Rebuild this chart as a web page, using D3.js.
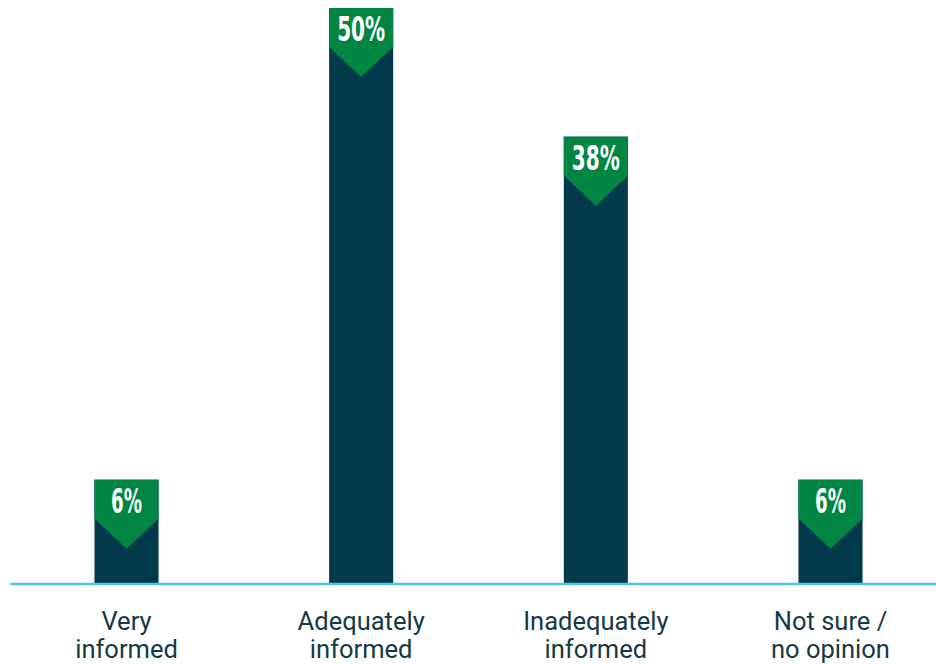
<!DOCTYPE html>
<html><head><meta charset="utf-8">
<script src="https://cdn.jsdelivr.net/npm/d3@7"></script>
<style>body{margin:0;background:#fff}svg{display:block}</style>
</head><body>
<svg id="chart" width="936" height="664"></svg>
<script>
const categories = ["Very informed", "Adequately informed", "Inadequately informed", "Not sure / no opinion"];
const labelLines = [["Very","informed"],["Adequately","informed"],["Inadequately","informed"],["Not sure /","no opinion"]];
const values = [6, 50, 38, 6];
const valueLabels = ["6%", "50%", "38%", "6%"];

const svg = d3.select("#chart");
const baseY = 583, boxH = 39, chevH = 30;
const x = d3.scaleBand().domain(categories).range([10, 947]).paddingInner(0.727).paddingOuter(0.36);
const y = d3.scaleLinear().domain([0, 50]).range([baseY, 8 + boxH]);
const bw = x.bandwidth();

const g = svg.append("g");
g.selectAll("rect.bar").data(values).join("rect")
  .attr("class","bar")
  .attr("x",(d,i)=>x(categories[i]))
  .attr("y",d=>y(d)-boxH)
  .attr("width",bw)
  .attr("height",d=>baseY-(y(d)-boxH))
  .attr("fill","#003a4b");
g.selectAll("path.tag").data(values).join("path")
  .attr("class","tag")
  .attr("d",(d,i)=>{
    const x0=x(categories[i]), x1=x0+bw, t=y(d)-boxH, b=y(d);
    return `M${x0},${t}H${x1}V${b}L${x0+bw/2},${b+chevH}L${x0},${b}Z`;
  })
  .attr("fill","#008542");
g.selectAll("text.val").data(values).join("text")
  .attr("class","val")
  .attr("x",(d,i)=>x(categories[i])+bw/2)
  .attr("y",d=>y(d)-boxH+33)
  .attr("text-anchor","middle")
  .attr("fill","#fff")
  .attr("font-family","'DejaVu Sans Condensed','Liberation Sans Narrow',sans-serif")
  .attr("font-weight","bold")
  .attr("font-size",33)
  .attr("textLength",(d,i)=>valueLabels[i].length===2?31:48)
  .attr("lengthAdjust","spacingAndGlyphs")
  .text((d,i)=>valueLabels[i]);

const axis = d3.axisBottom(x).tickSize(0).tickFormat("");
const ag = svg.append("g").attr("transform",`translate(0,${baseY+1})`).call(axis);
ag.select(".domain").attr("stroke","#52c4e8").attr("stroke-width",2.5).attr("d","M10,0H936");

const lbl = svg.append("g").selectAll("text").data(categories).join("text")
  .attr("x",d=>x(d)+bw/2)
  .attr("text-anchor","middle")
  .attr("fill","#163947")
  .attr("font-family","Roboto, sans-serif")
  .attr("font-size",25.5);
lbl.each(function(d,i){
  const t=d3.select(this);
  labelLines[i].forEach((ln,j)=>t.append("tspan").attr("x",x(d)+bw/2).attr("y",630+j*28).text(ln));
});
</script>
</body></html>
